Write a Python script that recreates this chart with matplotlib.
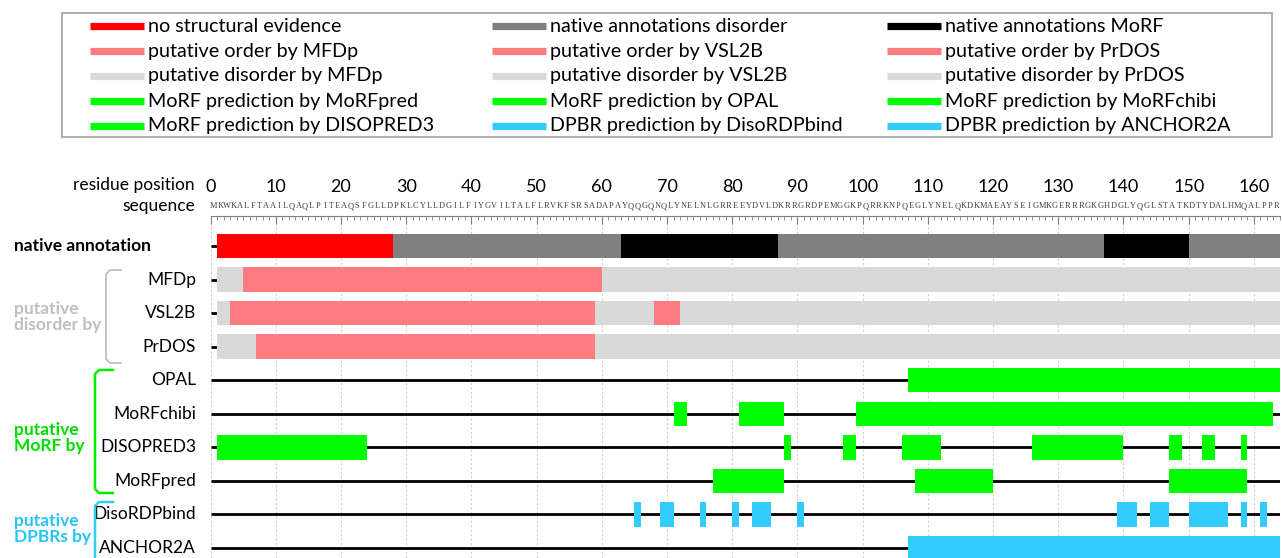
import matplotlib
matplotlib.use('Agg')
import matplotlib.pyplot as plt
from matplotlib.lines import Line2D
from matplotlib.patches import Rectangle
from matplotlib.ticker import MultipleLocator
import matplotlib.transforms as mtransforms

plt.rcParams['font.family'] = ['Lato', 'DejaVu Sans']

# ---------------- data ----------------
sequence = ("MKWKALFTAAILQAQLPITEAQSFGLLDPKLCYLLDGILFIYGVILTALFLRVKFSRSAD"
            "APAYQQGQNQLYNELNLGRREEYDVLDKRRGRDPEMGGKPQRRKNPQEGLYNELQKDKMA"
            "EAYSEIGMKGERRRGKGHDGLYQGLSTATKDTYDALHMQALPPR")
seq_length = 164
residue_ticks = list(range(0, 161, 10))

row_labels = ["native annotation", "MFDp", "VSL2B", "PrDOS", "OPAL",
              "MoRFchibi", "DISOPRED3", "MoRFpred", "DisoRDPbind", "ANCHOR2A"]

native_annotation = [(1, 28, "nse"), (28, 63, "ndis"), (63, 87, "nmorf"),
                     (87, 137, "ndis"), (137, 150, "nmorf"), (150, 164, "ndis")]
mfdp = [(1, 5, "pdis"), (5, 60, "pord"), (60, 164, "pdis")]
vsl2b = [(1, 3, "pdis"), (3, 59, "pord"), (59, 68, "pdis"), (68, 72, "pord"),
         (72, 164, "pdis")]
prdos = [(1, 7, "pdis"), (7, 59, "pord"), (59, 164, "pdis")]
opal = [(107, 164, "morf")]
morfchibi = [(71, 73, "morf"), (81, 88, "morf"), (99, 163, "morf")]
disopred3 = [(1, 24, "morf"), (88, 89, "morf"), (97, 99, "morf"), (106, 112, "morf"),
             (126, 140, "morf"), (147, 149, "morf"), (152, 154, "morf"), (158, 159, "morf")]
morfpred = [(77, 88, "morf"), (108, 120, "morf"), (147, 159, "morf")]
disordpbind = [(65, 66, "dpbr"), (69, 71, "dpbr"), (75, 76, "dpbr"), (80, 81, "dpbr"),
               (83, 86, "dpbr"), (90, 91, "dpbr"), (139, 142, "dpbr"), (144, 147, "dpbr"),
               (150, 156, "dpbr"), (158, 159, "dpbr"), (161, 162, "dpbr")]
anchor2a = [(107, 164, "dpbr")]

rows = [native_annotation, mfdp, vsl2b, prdos, opal, morfchibi, disopred3,
        morfpred, disordpbind, anchor2a]

legend_col1 = [("no structural evidence", "nse"), ("putative order by MFDp", "pord"),
               ("putative disorder by MFDp", "pdis"), ("MoRF prediction by MoRFpred", "morf"),
               ("MoRF prediction by DISOPRED3", "morf")]
legend_col2 = [("native annotations disorder", "ndis"), ("putative order by VSL2B", "pord"),
               ("putative disorder by VSL2B", "pdis"), ("MoRF prediction by OPAL", "morf"),
               ("DPBR prediction by DisoRDPbind", "dpbr")]
legend_col3 = [("native annotations MoRF", "nmorf"), ("putative order by PrDOS", "pord"),
               ("putative disorder by PrDOS", "pdis"), ("MoRF prediction by MoRFchibi", "morf"),
               ("DPBR prediction by ANCHOR2A", "dpbr")]

# ---------------- styles ----------------
colors = {"nse": "#FF0000", "ndis": "#808080", "nmorf": "#000000",
          "pord": "#FF7C80", "pdis": "#D9D9D9", "morf": "#00FF00", "dpbr": "#33CCFF"}

W, H = 1282, 558
def fx(x):
    return x / W
def fy(y):
    return 1 - y / H

fig = plt.figure(figsize=(W / 100, H / 100), dpi=100)

row0_px = 246.0
row_step = 33.55
axis_top_px = 216.0
x_left_px, x_right_px = 210.5, 1280.0

ax = fig.add_axes([fx(x_left_px), 0, fx(x_right_px) - fx(x_left_px), (H - axis_top_px) / H])
ax.set_xlim(0, seq_length)
ax.set_ylim((H - row0_px) / row_step, -(row0_px - axis_top_px) / row_step)

for i, segs in enumerate(rows):
    ax.plot([0, seq_length], [i, i], color="black", lw=2.0, zorder=2,
            solid_capstyle="butt")
    for (s, e, k) in segs:
        ax.barh(i, e - s, left=s, height=0.73, color=colors[k], linewidth=0, zorder=3)

# top ruler axis
ax.xaxis.set_ticks_position("top")
ax.set_xticks(residue_ticks)
ax.set_xticklabels([str(t) for t in residue_ticks])
ax.xaxis.set_minor_locator(MultipleLocator(1))
ax.tick_params(axis="x", which="major", direction="in", length=6, width=0.8,
               color="#808080", labelsize=13, pad=15)
ax.tick_params(axis="x", which="minor", direction="in", length=3, width=0.6,
               color="#808080")
ax.set_yticks([])
for side in ["left", "right", "bottom"]:
    ax.spines[side].set_visible(False)
ax.spines["top"].set_color("#808080")
ax.spines["top"].set_linewidth(0.8)
ax.grid(True, axis="x", which="major", color="#D0D0D0", linestyle=(0, (2, 2)),
        linewidth=0.8)
ax.set_axisbelow(True)

# sequence letters
y_seq = -(row0_px - 206) / row_step
for k, ch in enumerate(sequence):
    ax.text(k + 0.5, y_seq, ch, ha="center", va="center", fontsize=6,
            family="Liberation Serif", color="#404040", clip_on=False)

fig.text(fx(195), fy(185), "residue position", ha="right", va="center", fontsize=12.5)
fig.text(fx(195), fy(206), "sequence", ha="right", va="center", fontsize=12.5)

# row labels
trans = mtransforms.blended_transform_factory(fig.transFigure, ax.transData)
ax.text(fx(14), 0, row_labels[0], transform=trans, ha="left", va="center",
        fontsize=12.5, fontweight="bold")
for i, lab in enumerate(row_labels[1:], start=1):
    ax.text(fx(196), i, lab, transform=trans, ha="right", va="center", fontsize=12.5)

# group labels
fig.text(fx(14), fy(317), "putative\ndisorder by", ha="left", va="center",
         color="#BFBFBF", fontweight="bold", fontsize=12.5, linespacing=0.95)
fig.text(fx(14), fy(438), "putative\nMoRF by", ha="left", va="center",
         color="#00DD00", fontweight="bold", fontsize=12.5, linespacing=0.95)
fig.text(fx(14), fy(529), "putative\nDPBRs by", ha="left", va="center",
         color="#29C3F5", fontweight="bold", fontsize=12.5, linespacing=0.95)

def bracket(x, x_end, y0, y1, color, lw):
    xs = [x_end, x + 4, x, x, x + 4, x_end]
    ys = [y0, y0, y0 + 4, y1 - 4, y1, y1]
    fig.add_artist(Line2D([fx(v) for v in xs], [fy(v) for v in ys],
                          transform=fig.transFigure, color=color, lw=lw))

bracket(106, 121, 270, 363, "#BFBFBF", 1.3)
bracket(95, 113, 370, 493, "#00EE00", 1.8)
bracket(95, 113, 502, 575, "#33CCFF", 1.8)

# legend (manual)
fig.add_artist(Rectangle((fx(62), fy(137)), fx(1272) - fx(62), (137 - 13) / H,
                         transform=fig.transFigure, fill=False, edgecolor="#A0A0A0", lw=1.2))
col_x = [90, 492, 887]
row_y = [26, 51, 76, 101, 126]
for cx, col in zip(col_x, [legend_col1, legend_col2, legend_col3]):
    for ry, (lab, k) in zip(row_y, col):
        fig.add_artist(Line2D([fx(cx), fx(cx + 54)], [fy(ry), fy(ry)],
                              transform=fig.transFigure, color=colors[k], lw=5.2,
                              solid_capstyle="butt"))
        fig.text(fx(cx + 58), fy(ry), lab, ha="left", va="center", fontsize=14.2)

fig.savefig("out.png", dpi=100)
